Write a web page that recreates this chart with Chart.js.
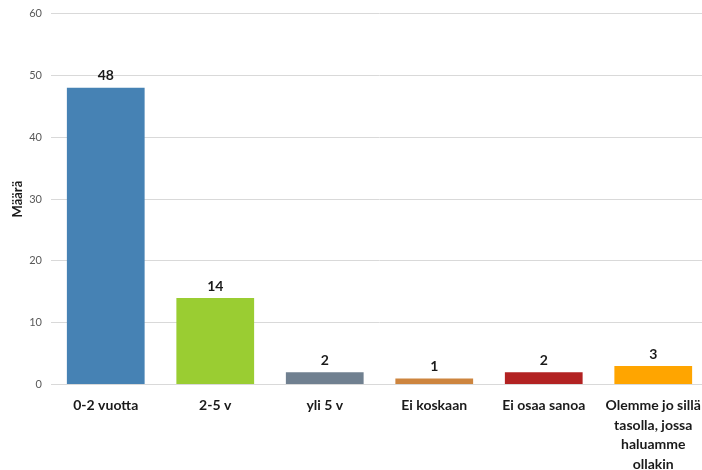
<!DOCTYPE html>
<html lang="fi">
<head>
    <meta charset="UTF-8">
    <title>Määrä</title>
    <script src="https://cdn.jsdelivr.net/npm/chart.js@4.4.1/dist/chart.umd.min.js"></script>
    <style>
        html, body { margin: 0; padding: 0; background: #fff; overflow: hidden; }
        #wrap { width: 702px; height: 470px; overflow: hidden; position: relative; }
        #box { width: 712px; height: 479px; margin-top: -2px; }
    </style>
</head>
<body>
    <div id="wrap">
        <div id="box"><canvas id="chart"></canvas></div>
    </div>

    <script>
        // data
        const categories = ['0-2 vuotta', '2-5 v', 'yli 5 v', 'Ei koskaan', 'Ei osaa sanoa',
            ['Olemme jo sillä', 'tasolla, jossa', 'haluamme', 'ollakin']];
        const counts = [48, 14, 2, 1, 2, 3];
        const barColors = ['#4682B4', '#9ACD32', '#708090', '#CD853F', '#B22222', '#FFA500'];
        const yTicks = [0, 10, 20, 30, 40, 50, 60];

        // value labels above the bars
        const valueLabels = {
            id: 'valueLabels',
            afterDatasetsDraw(chart) {
                const ctx = chart.ctx;
                ctx.save();
                ctx.font = 'bold 14px Lato';
                ctx.fillStyle = '#1a1a1a';
                ctx.textAlign = 'center';
                ctx.textBaseline = 'bottom';
                chart.getDatasetMeta(0).data.forEach((bar, i) => {
                    ctx.fillText(counts[i], bar.x, bar.y - 5);
                });
                ctx.restore();
            }
        };

        new Chart(document.getElementById('chart'), {
            type: 'bar',
            data: {
                labels: categories,
                datasets: [{
                    data: counts,
                    backgroundColor: barColors,
                    categoryPercentage: 1,
                    barPercentage: 0.71
                }]
            },
            options: {
                responsive: true,
                maintainAspectRatio: false,
                animation: false,
                layout: { padding: { top: 5, left: 0, right: 4, bottom: 0 } },
                plugins: {
                    legend: { display: false },
                    tooltip: { enabled: false }
                },
                scales: {
                    x: {
                        grid: { display: false },
                        border: { color: '#d9d9d9' },
                        ticks: {
                            color: '#1a1a1a',
                            font: { family: 'Lato', size: 14, weight: 'bold', lineHeight: 1.4 },
                            padding: 3,
                            maxRotation: 0,
                            autoSkip: false
                        }
                    },
                    y: {
                        min: 0,
                        max: 60,
                        afterBuildTicks: scale => { scale.ticks = yTicks.map(v => ({ value: v })); },
                        afterFit: scale => { scale.width = 51; },
                        grid: { color: '#d9d9d9', drawTicks: false },
                        border: { display: false },
                        ticks: {
                            color: '#595959',
                            font: { family: 'Lato', size: 11 },
                            padding: 9
                        },
                        title: {
                            display: true,
                            text: 'Määrä',
                            color: '#1a1a1a',
                            font: { family: 'Lato', size: 13, weight: 'bold' },
                            padding: { top: 10, bottom: 0 }
                        }
                    }
                }
            },
            plugins: [valueLabels]
        });
    </script>
</body>
</html>
